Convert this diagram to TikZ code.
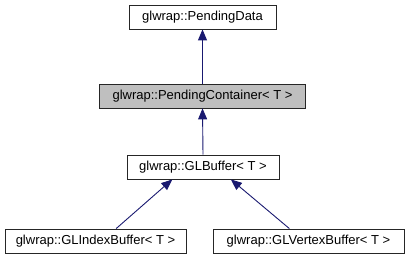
\documentclass[tikz,border=0pt]{standalone}
\usepackage{fontspec}
\setmainfont{Liberation Sans}
\usetikzlibrary{arrows.meta}
\definecolor{inhblue}{HTML}{191970}
\definecolor{curgray}{HTML}{BFBFBF}
\begin{document}
\begin{tikzpicture}[x=1pt,y=-1pt,
  cls/.style={draw=black!85, line width=0.8pt, fill=white, minimum height=24pt,
    inner sep=0pt, font=\fontsize{13}{15}\selectfont},
  cur/.style={cls, fill=curgray},
  inh/.style={draw=inhblue, line width=0.9pt,
    {Triangle[length=11pt,width=9pt,fill=inhblue]}-}]
\useasboundingbox (0,0) rectangle (410,261);
% class nodes
\node[cls, minimum width=147pt] (pd) at (202.5,17)  {glwrap::PendingData};
\node[cur, minimum width=206pt] (pc) at (202.5,96)  {glwrap::PendingContainer< T >};
\node[cls, minimum width=152pt] (gb) at (203,167)   {glwrap::GLBuffer< T >};
\node[cls, minimum width=181pt] (ib) at (95.5,241)  {glwrap::GLIndexBuffer< T >};
\node[cls, minimum width=191pt] (vb) at (308.5,241) {glwrap::GLVertexBuffer< T >};
% inheritance edges, arrow at the base class
\draw[inh] (pd.south) -- (pc.north);
\draw[inh] (pc.south) -- (gb.north);
\draw[inh] (gb.202.5) -- (ib.31.6);
\draw[inh] (gb.336.8) -- (vb.147);
\end{tikzpicture}
\end{document}
